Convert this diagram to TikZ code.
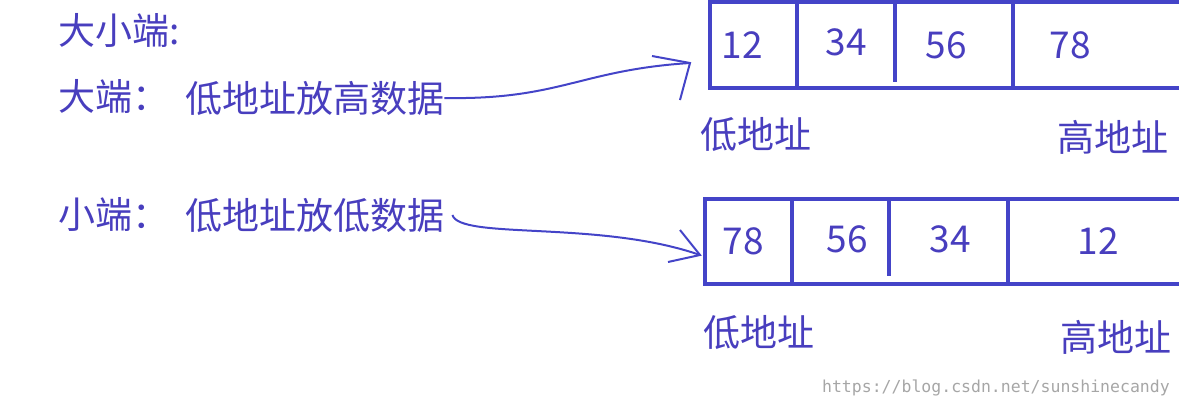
\documentclass[tikz,border=0pt]{standalone}
\usepackage{fontspec}
\setmainfont{Noto Sans CJK SC}
\newfontfamily\wmfont{DejaVu Sans Mono}
\definecolor{pen}{RGB}{68,68,200}
\definecolor{ink}{RGB}{72,62,190}
\tikzset{
  lbl/.style={anchor=west,inner sep=0pt,text=ink,font=\fontsize{37}{40}\selectfont},
  num/.style={inner sep=0pt,text=ink,font=\fontsize{37}{40}\selectfont},
  cell/.style={draw=pen,line width=3.5pt},
  hand/.style={draw=pen,line width=2pt}
}
\begin{document}
\begin{tikzpicture}[x=1pt,y=-1pt]
\useasboundingbox (0,0) rectangle (1179,405);
\node[lbl] (t0) at (58,30) {大小端:};
\node[lbl] (b0) at (58,96) {大端：};
\node[lbl] (b1) at (185,98) {低地址放高数据};
\node[lbl] (s0) at (58,215) {小端：};
\node[lbl] (s1) at (185,215) {低地址放低数据};
% top box
\draw[cell] (1185,2) -- (710,2) -- (710,88) -- (1185,88);
\draw[cell] (797,2) -- (797,86);
\draw[cell] (895,2) -- (895,82);
\draw[cell] (1013,2) -- (1013,88);
\node[num] (n1) at (742,45) {12};
\node[num] (n2) at (846,42) {34};
\node[num] (n3) at (946,45) {56};
\node[num] (n4) at (1070,45) {78};
\node[lbl] (la) at (700,135) {低地址};
\node[lbl] (ha) at (1057,137) {高地址};
% bottom box
\draw[cell] (1185,199) -- (705,199) -- (705,284) -- (1185,284);
\draw[cell] (792,201) -- (792,282);
\draw[cell] (889,199) -- (889,276);
\draw[cell] (1008,199) -- (1008,282);
\node[num] (m1) at (743,241) {78};
\node[num] (m2) at (847,239) {56};
\node[num] (m3) at (950,239) {34};
\node[num] (m4) at (1098,241) {12};
\node[lbl] (lb) at (703,333) {低地址};
\node[lbl] (hb) at (1060,337) {高地址};
% arrows
\coordinate (a1) at (690,63);
\draw[hand] (b1.east) .. controls (560,100) and (580,70) .. (a1);
\draw[hand] (652,56) -- (690,63) -- (680,100);
\coordinate (a2) at (700,255);
\draw[hand] ([xshift=8pt]s1.east) .. controls (460,240) and (600,220) .. (a2);
\draw[hand] (680,230) -- (700,255) -- (668,262);
\node[anchor=south east,inner sep=2pt,text=black!35,font=\wmfont\fontsize{16.5}{18}\selectfont] (wm) at (1172,398) {https://blog.csdn.net/sunshinecandy};
\end{tikzpicture}
\end{document}
